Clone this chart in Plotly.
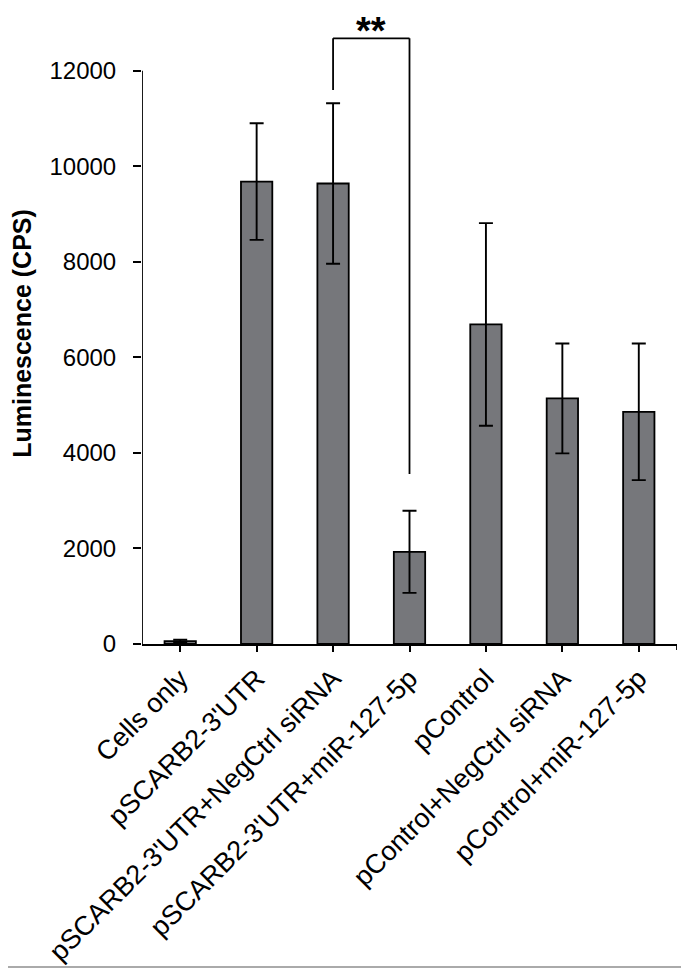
import plotly.graph_objects as go

categories = ["Cells only", "pSCARB2-3'UTR", "pSCARB2-3'UTR+NegCtrl siRNA",
              "pSCARB2-3'UTR+miR-127-5p", "pControl", "pControl+NegCtrl siRNA",
              "pControl+miR-127-5p"]
values = [60, 9680, 9640, 1930, 6690, 5140, 4860]
errors = [30, 1220, 1680, 860, 2120, 1150, 1430]
y_ticks = [0, 2000, 4000, 6000, 8000, 10000, 12000]
y_title = "Luminescence (CPS)"
sig_label = "**"
sig_pair = (2, 3)
sig_left_bottom = 11600
sig_top = 12680
sig_right_bottom = 3560

# page body has an 8px margin; figure is sized to fill the rest of the window
OFF = 8
W, H = 689 - OFF, 969 - OFF
ML, MR, MT, MB = 142 - OFF, 12, 23 - OFF, 325
PW, PH = W - ML - MR, H - MT - MB
FONT = "Liberation Sans, Arial, sans-serif"

x = list(range(len(categories)))
fig = go.Figure()
fig.add_trace(go.Bar(
    x=x, y=values, width=0.41,
    marker=dict(color="#76777b", line=dict(color="black", width=1.8)),
    error_y=dict(type="data", array=errors, visible=True, color="black",
                 thickness=1.9, width=7),
))

shapes = []
shapes.append(dict(type="line", xref="x", yref="y", x0=-0.5, x1=-0.5, y0=0, y1=y_ticks[-1],
                   line=dict(color="black", width=1.8)))
shapes.append(dict(type="line", xref="x", yref="paper", x0=6.5, x1=6.5, y0=0, y1=-6 / PH,
                   line=dict(color="black", width=1.8)))
a, b = sig_pair
for (x0, y0, x1, y1) in [(a, sig_left_bottom, a, sig_top), (a, sig_top, b, sig_top),
                         (b, sig_top, b, sig_right_bottom)]:
    shapes.append(dict(type="line", xref="x", yref="y", x0=x0, x1=x1, y0=y0, y1=y1,
                       line=dict(color="black", width=1.8)))
# outer frame (right and bottom edges visible)
px = lambda p: (p - ML) / PW
py = lambda p: (H - MB - p) / PH
fx, fy = 676, 959
shapes.append(dict(type="line", xref="paper", yref="paper", x0=px(fx), x1=px(fx),
                   y0=py(0), y1=py(fy), line=dict(color="#aaaaaa", width=2)))
shapes.append(dict(type="line", xref="paper", yref="paper", x0=px(0), x1=px(fx),
                   y0=py(fy), y1=py(fy), line=dict(color="#aaaaaa", width=2)))

fig.update_layout(
    width=W, height=H, margin=dict(l=ML, r=MR, t=MT, b=MB, autoexpand=False),
    plot_bgcolor="white", paper_bgcolor="white", showlegend=False,
    font=dict(family=FONT, color="black", size=24),
    shapes=shapes,
    annotations=[dict(x=(a + b) / 2, y=py(23), xref="x", yref="paper",
                      text="<b>" + sig_label + "</b>",
                      showarrow=False, yanchor="middle",
                      font=dict(size=38, family=FONT, color="black"))],
    xaxis=dict(range=[-0.5, 6.5], tickvals=x, ticktext=categories, tickangle=-45,
               showline=True, linecolor="black", linewidth=1.8, ticks="outside",
               ticklen=6, tickwidth=1.8, tickcolor="black", showgrid=False,
               zeroline=False, tickfont=dict(size=27, family=FONT), automargin=False),
    yaxis=dict(range=[0, 13000], tickvals=y_ticks, ticktext=[str(v) for v in y_ticks],
               showline=False, ticks="outside",
               ticklen=8, tickwidth=1.8, tickcolor="black", showgrid=False,
               zeroline=False, tickfont=dict(size=24, family=FONT),
               ticklabelstandoff=12, automargin=False,
               title=dict(text="<b>" + y_title + "</b>", font=dict(size=25, family=FONT),
                          standoff=24)),
)
fig.write_html("out.html")
